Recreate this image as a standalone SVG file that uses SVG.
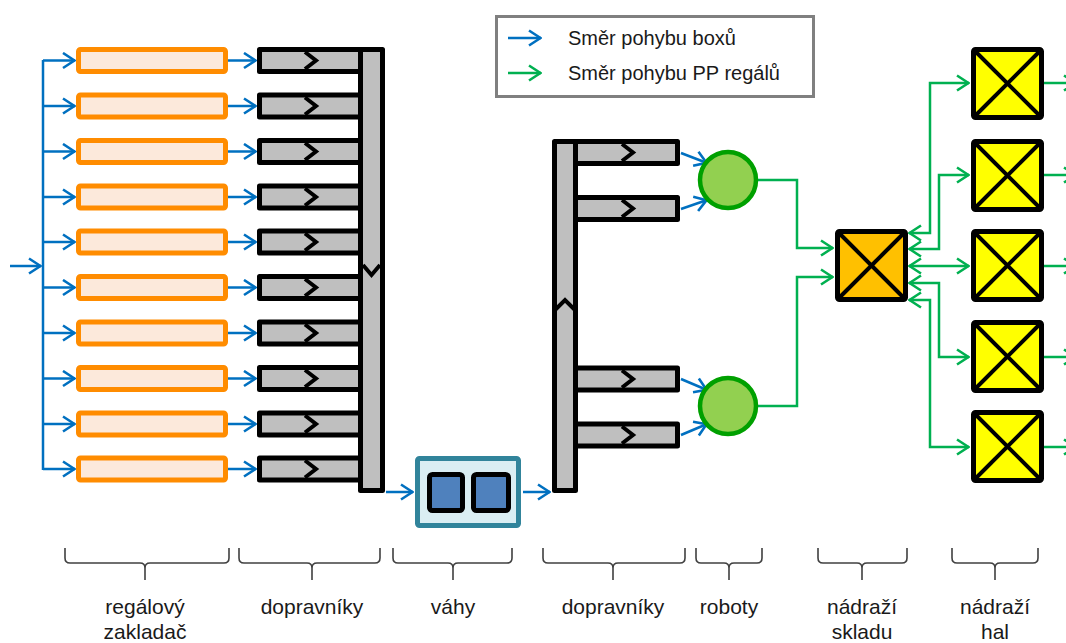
<svg xmlns="http://www.w3.org/2000/svg" width="1066" height="643" viewBox="0 0 1066 643">
  <defs>
    <style>
      .blue { fill: none; stroke: #0070C0; stroke-width: 2.5; }
      .green { fill: none; stroke: #00B050; stroke-width: 2.5; }
      .feeder { fill: #FCE9DB; stroke: #FF8C00; stroke-width: 5; }
      .conv { fill: #BFBFBF; stroke: #000; stroke-width: 5; stroke-linejoin: round; }
      .chev { fill: none; stroke: #000; stroke-width: 4; }
      .robot { fill: #92D050; stroke: #00A000; stroke-width: 4.5; }
      .station { stroke: #000; stroke-width: 5; }
      .cross { stroke: #000; stroke-width: 4; }
      .brace { fill: none; stroke: #404040; stroke-width: 1.6; }
      .lbl { font-family: "Liberation Sans", Arial, sans-serif; font-size: 21px; fill: #1a1a1a; text-anchor: middle; }
      .leg { font-family: "Liberation Sans", Arial, sans-serif; font-size: 20px; fill: #1a1a1a; }
    </style>
    <marker id="ab" viewBox="0 0 14 18" refX="13" refY="9" markerWidth="14" markerHeight="18" markerUnits="userSpaceOnUse" orient="auto-start-reverse">
      <path d="M1,1.5 L12.5,9 L1,16.5" fill="none" stroke="#0070C0" stroke-width="2.6"/>
    </marker>
    <marker id="ag" viewBox="0 0 14 18" refX="13" refY="9" markerWidth="14" markerHeight="18" markerUnits="userSpaceOnUse" orient="auto-start-reverse">
      <path d="M1,1.5 L12.5,9 L1,16.5" fill="none" stroke="#00B050" stroke-width="2.6"/>
    </marker>
  </defs>

  <rect width="1066" height="643" fill="#fff"/>

  <!-- legend -->
  <g id="legend">
    <rect x="496.5" y="16.5" width="317" height="80" fill="#fff" stroke="#808080" stroke-width="3"/>
    <line x1="508" y1="38" x2="541" y2="38" class="blue" marker-end="url(#ab)"/>
    <line x1="508" y1="73" x2="541" y2="73" class="green" marker-end="url(#ag)"/>
    <text x="568" y="45" class="leg">Směr pohybu boxů</text>
    <text x="568" y="80" class="leg">Směr pohybu PP regálů</text>
  </g>

  <!-- connectors -->
  <g id="connectors">
    <!-- box flow -->
    <line x1="10" y1="266" x2="41" y2="266" class="blue" marker-end="url(#ab)"/>
    <line x1="43" y1="60" x2="43" y2="470" class="blue"/>
    <g id="feeder-inputs">
      <line x1="43" y1="60.5" x2="75" y2="60.5" class="blue" marker-end="url(#ab)"/>
      <line x1="43" y1="106" x2="75" y2="106" class="blue" marker-end="url(#ab)"/>
      <line x1="43" y1="151.5" x2="75" y2="151.5" class="blue" marker-end="url(#ab)"/>
      <line x1="43" y1="197" x2="75" y2="197" class="blue" marker-end="url(#ab)"/>
      <line x1="43" y1="242" x2="75" y2="242" class="blue" marker-end="url(#ab)"/>
      <line x1="43" y1="287.5" x2="75" y2="287.5" class="blue" marker-end="url(#ab)"/>
      <line x1="43" y1="333" x2="75" y2="333" class="blue" marker-end="url(#ab)"/>
      <line x1="43" y1="378.5" x2="75" y2="378.5" class="blue" marker-end="url(#ab)"/>
      <line x1="43" y1="424" x2="75" y2="424" class="blue" marker-end="url(#ab)"/>
      <line x1="43" y1="469" x2="75" y2="469" class="blue" marker-end="url(#ab)"/>
    </g>
    <g id="feeder-outputs">
      <line x1="228" y1="60.5" x2="256" y2="60.5" class="blue" marker-end="url(#ab)"/>
      <line x1="228" y1="106" x2="256" y2="106" class="blue" marker-end="url(#ab)"/>
      <line x1="228" y1="151.5" x2="256" y2="151.5" class="blue" marker-end="url(#ab)"/>
      <line x1="228" y1="197" x2="256" y2="197" class="blue" marker-end="url(#ab)"/>
      <line x1="228" y1="242" x2="256" y2="242" class="blue" marker-end="url(#ab)"/>
      <line x1="228" y1="287.5" x2="256" y2="287.5" class="blue" marker-end="url(#ab)"/>
      <line x1="228" y1="333" x2="256" y2="333" class="blue" marker-end="url(#ab)"/>
      <line x1="228" y1="378.5" x2="256" y2="378.5" class="blue" marker-end="url(#ab)"/>
      <line x1="228" y1="424" x2="256" y2="424" class="blue" marker-end="url(#ab)"/>
      <line x1="228" y1="469" x2="256" y2="469" class="blue" marker-end="url(#ab)"/>
    </g>
    <line x1="386" y1="492" x2="413" y2="492" class="blue" marker-end="url(#ab)"/>
    <line x1="523" y1="492" x2="550" y2="492" class="blue" marker-end="url(#ab)"/>
    <line x1="681" y1="153" x2="707" y2="163" class="blue" marker-end="url(#ab)"/>
    <line x1="681" y1="209" x2="707" y2="200" class="blue" marker-end="url(#ab)"/>
    <line x1="681" y1="379" x2="707" y2="390" class="blue" marker-end="url(#ab)"/>
    <line x1="681" y1="435" x2="707" y2="424" class="blue" marker-end="url(#ab)"/>

    <!-- rack flow -->
    <path d="M758,180 H797 V248 H833" class="green" marker-end="url(#ag)"/>
    <path d="M758,406 H797 V277 H833" class="green" marker-end="url(#ag)"/>
    <path d="M909,233 H930 V83 H969" class="green" marker-start="url(#ag)" marker-end="url(#ag)"/>
    <path d="M909,249 H939 V175 H969" class="green" marker-start="url(#ag)" marker-end="url(#ag)"/>
    <path d="M909,266 H969" class="green" marker-start="url(#ag)" marker-end="url(#ag)"/>
    <path d="M909,283 H939 V357 H969" class="green" marker-start="url(#ag)" marker-end="url(#ag)"/>
    <path d="M909,300 H930 V447 H969" class="green" marker-start="url(#ag)" marker-end="url(#ag)"/>
    <line x1="1044" y1="83" x2="1076" y2="83" class="green" marker-end="url(#ag)"/>
    <line x1="1044" y1="175" x2="1076" y2="175" class="green" marker-end="url(#ag)"/>
    <line x1="1044" y1="266" x2="1076" y2="266" class="green" marker-end="url(#ag)"/>
    <line x1="1044" y1="357" x2="1076" y2="357" class="green" marker-end="url(#ag)"/>
    <line x1="1044" y1="447" x2="1076" y2="447" class="green" marker-end="url(#ag)"/>
  </g>

  <!-- stacker crane lanes -->
  <g id="stacker">
    <rect x="78.5" y="49.5" width="147" height="22" rx="2" class="feeder"/>
    <rect x="78.5" y="95" width="147" height="22" rx="2" class="feeder"/>
    <rect x="78.5" y="140.5" width="147" height="22" rx="2" class="feeder"/>
    <rect x="78.5" y="186" width="147" height="22" rx="2" class="feeder"/>
    <rect x="78.5" y="231" width="147" height="22" rx="2" class="feeder"/>
    <rect x="78.5" y="276.5" width="147" height="22" rx="2" class="feeder"/>
    <rect x="78.5" y="322" width="147" height="22" rx="2" class="feeder"/>
    <rect x="78.5" y="367.5" width="147" height="22" rx="2" class="feeder"/>
    <rect x="78.5" y="413" width="147" height="22" rx="2" class="feeder"/>
    <rect x="78.5" y="458" width="147" height="22" rx="2" class="feeder"/>
  </g>

  <!-- first conveyor set -->
  <g id="conveyors-1">
    <rect x="259.5" y="49.5" width="104" height="22" class="conv"/>
    <rect x="259.5" y="95" width="104" height="22" class="conv"/>
    <rect x="259.5" y="140.5" width="104" height="22" class="conv"/>
    <rect x="259.5" y="186" width="104" height="22" class="conv"/>
    <rect x="259.5" y="231" width="104" height="22" class="conv"/>
    <rect x="259.5" y="276.5" width="104" height="22" class="conv"/>
    <rect x="259.5" y="322" width="104" height="22" class="conv"/>
    <rect x="259.5" y="367.5" width="104" height="22" class="conv"/>
    <rect x="259.5" y="413" width="104" height="22" class="conv"/>
    <rect x="259.5" y="458" width="104" height="22" class="conv"/>
    <polyline points="305,52 316,60.5 305,69" class="chev"/>
    <polyline points="305,97.5 316,106 305,114.5" class="chev"/>
    <polyline points="305,143 316,151.5 305,160" class="chev"/>
    <polyline points="305,188.5 316,197 305,205.5" class="chev"/>
    <polyline points="305,233.5 316,242 305,250.5" class="chev"/>
    <polyline points="305,279 316,287.5 305,296" class="chev"/>
    <polyline points="305,324.5 316,333 305,341.5" class="chev"/>
    <polyline points="305,370 316,378.5 305,387" class="chev"/>
    <polyline points="305,415.5 316,424 305,432.5" class="chev"/>
    <polyline points="305,460.5 316,469 305,477.5" class="chev"/>
    <rect x="360.5" y="49.5" width="22" height="441" class="conv"/>
    <polyline points="363,265 371.5,275 380,265" class="chev"/>
  </g>

  <!-- scales -->
  <g id="scales">
    <rect x="417.5" y="458.5" width="101" height="67" rx="2" fill="#DAEEF3" stroke="#31849B" stroke-width="5"/>
    <rect x="429.5" y="474.5" width="33" height="36" rx="3" fill="#4F81BD" stroke="#000" stroke-width="5"/>
    <rect x="473.5" y="474.5" width="35" height="36" rx="3" fill="#4F81BD" stroke="#000" stroke-width="5"/>
  </g>

  <!-- second conveyor set -->
  <g id="conveyors-2">
    <rect x="572" y="141.5" width="105.5" height="22" class="conv"/>
    <rect x="572" y="197.5" width="105.5" height="22" class="conv"/>
    <rect x="572" y="368" width="105.5" height="22" class="conv"/>
    <rect x="572" y="424" width="105.5" height="22" class="conv"/>
    <polyline points="622,144 633,152.5 622,161" class="chev"/>
    <polyline points="622,200 633,208.5 622,217" class="chev"/>
    <polyline points="622,370.5 633,379 622,387.5" class="chev"/>
    <polyline points="622,426.5 633,435 622,443.5" class="chev"/>
    <rect x="554.5" y="141.5" width="21" height="349" class="conv"/>
    <polyline points="555,310 565,300 575,310" class="chev"/>
  </g>

  <!-- robots -->
  <g id="robot-1"><circle cx="728" cy="180" r="28" class="robot"/></g>
  <g id="robot-2"><circle cx="728" cy="406" r="28" class="robot"/></g>

  <!-- warehouse station -->
  <g id="station-warehouse">
    <rect x="837.5" y="231.5" width="68" height="68" rx="2" fill="#FFC000" class="station"/>
    <line x1="839" y1="233" x2="904" y2="298" class="cross"/>
    <line x1="904" y1="233" x2="839" y2="298" class="cross"/>
  </g>

  <!-- hall stations -->
  <g id="station-hall-1">
    <rect x="973.5" y="49.5" width="68" height="68" rx="2" fill="#FFFF00" class="station"/>
    <line x1="975" y1="51" x2="1040" y2="116" class="cross"/>
    <line x1="1040" y1="51" x2="975" y2="116" class="cross"/>
  </g>
  <g id="station-hall-2">
    <rect x="973.5" y="141.5" width="68" height="68" rx="2" fill="#FFFF00" class="station"/>
    <line x1="975" y1="143" x2="1040" y2="208" class="cross"/>
    <line x1="1040" y1="143" x2="975" y2="208" class="cross"/>
  </g>
  <g id="station-hall-3">
    <rect x="973.5" y="231.5" width="68" height="68" rx="2" fill="#FFFF00" class="station"/>
    <line x1="975" y1="233" x2="1040" y2="298" class="cross"/>
    <line x1="1040" y1="233" x2="975" y2="298" class="cross"/>
  </g>
  <g id="station-hall-4">
    <rect x="973.5" y="322.5" width="68" height="68" rx="2" fill="#FFFF00" class="station"/>
    <line x1="975" y1="324" x2="1040" y2="389" class="cross"/>
    <line x1="1040" y1="324" x2="975" y2="389" class="cross"/>
  </g>
  <g id="station-hall-5">
    <rect x="973.5" y="412.5" width="68" height="68" rx="2" fill="#FFFF00" class="station"/>
    <line x1="975" y1="414" x2="1040" y2="479" class="cross"/>
    <line x1="1040" y1="414" x2="975" y2="479" class="cross"/>
  </g>

  <!-- section braces and captions -->
  <g id="captions">
    <path d="M65,548 V558 Q65,563 70,563 H140 Q145,563 145,568 V580 M145,568 Q145,563 150,563 H224 Q229,563 229,558 V548" class="brace"/>
    <path d="M239,548 V558 Q239,563 244,563 H307 Q312,563 312,568 V580 M312,568 Q312,563 317,563 H375 Q380,563 380,558 V548" class="brace"/>
    <path d="M393,548 V558 Q393,563 398,563 H448 Q453,563 453,568 V580 M453,568 Q453,563 458,563 H507 Q512,563 512,558 V548" class="brace"/>
    <path d="M543,548 V558 Q543,563 548,563 H608 Q613,563 613,568 V580 M613,568 Q613,563 618,563 H680 Q685,563 685,558 V548" class="brace"/>
    <path d="M696,548 V558 Q696,563 701,563 H724 Q729,563 729,568 V580 M729,568 Q729,563 734,563 H757 Q762,563 762,558 V548" class="brace"/>
    <path d="M818,548 V558 Q818,563 823,563 H857 Q862,563 862,568 V580 M862,568 Q862,563 867,563 H902 Q907,563 907,558 V548" class="brace"/>
    <path d="M952,548 V558 Q952,563 957,563 H990 Q995,563 995,568 V580 M995,568 Q995,563 1000,563 H1033 Q1038,563 1038,558 V548" class="brace"/>
    <text x="145" y="614" class="lbl">regálový</text>
    <text x="145" y="639" class="lbl">zakladač</text>
    <text x="312" y="614" class="lbl">dopravníky</text>
    <text x="453" y="614" class="lbl">váhy</text>
    <text x="613" y="614" class="lbl">dopravníky</text>
    <text x="729" y="614" class="lbl">roboty</text>
    <text x="862" y="614" class="lbl">nádraží</text>
    <text x="862" y="639" class="lbl">skladu</text>
    <text x="995" y="614" class="lbl">nádraží</text>
    <text x="995" y="639" class="lbl">hal</text>
  </g>
</svg>
